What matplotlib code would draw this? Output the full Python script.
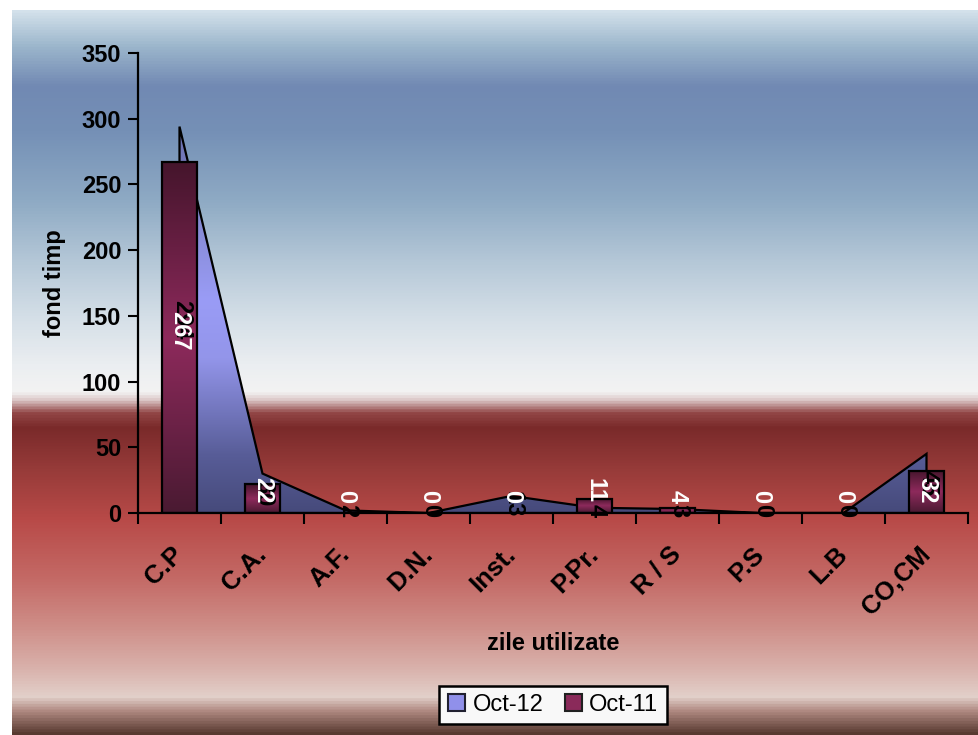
import numpy as np
import matplotlib
matplotlib.use("Agg")
import matplotlib.pyplot as plt
from matplotlib.colors import LinearSegmentedColormap
from matplotlib.patches import Patch, Polygon, Rectangle

plt.rcParams['font.family'] = ['Liberation Sans', 'DejaVu Sans']

# Data
categories = ['C.P', 'C.A.', 'A.F.', 'D.N.', 'Inst.', 'P.Pr.', 'R / S', 'P.S', 'L.B', 'CO,CM']
oct12 = [294, 30, 2, 0, 13, 4, 3, 0, 0, 45]     # area series
oct11 = [267, 22, 0, 0, 0, 11, 4, 0, 0, 32]     # bar series
yticks = [0, 50, 100, 150, 200, 250, 300, 350]

W, H = 979, 735
fig = plt.figure(figsize=(W / 100, H / 100), dpi=100)
fig.patch.set_facecolor('white')

# background gradient of the chart area (pixel row, colour)
bg_stops = [(10, '#d3e1eb'), (45, '#9cb6cc'), (85, '#7189b3'), (130, '#7590b6'),
            (200, '#8eaac4'), (260, '#b4c7d7'), (320, '#d6e0e8'), (365, '#ebeef1'),
            (392, '#f3f3f3'), (400, '#dcc8c8'), (413, '#924646'), (428, '#7a2a2a'),
            (470, '#973b39'), (520, '#b84a48'), (580, '#c46a66'), (630, '#cf908a'),
            (670, '#d9b2ac'), (698, '#e2d0ca'), (712, '#b08a82'), (735, '#583a30')]
top, bot = 10, 735
pos = [(p - top) / (bot - top) for p, _ in bg_stops]
bg_cmap = LinearSegmentedColormap.from_list('bg', list(zip(pos, [c for _, c in bg_stops])))
ax_bg = fig.add_axes([12 / W, 0, 1 - 12 / W, 1 - top / H])
ax_bg.imshow(np.linspace(0, 1, 512).reshape(-1, 1), aspect='auto', cmap=bg_cmap,
             extent=[0, 1, 1, 0])
ax_bg.set_xlim(0, 1)
ax_bg.set_ylim(1, 0)
ax_bg.axis('off')

# main axes
x0, x1, y0, y1 = 138, 968, 53, 513
ax = fig.add_axes([x0 / W, 1 - y1 / H, (x1 - x0) / W, (y1 - y0) / H])
ax.patch.set_alpha(0)
ax.set_xlim(0, len(categories))
ax.set_ylim(0, 350)

xs = np.arange(len(categories)) + 0.5

# area series with vertical gradient
area_cmap = LinearSegmentedColormap.from_list(
    'area', [(0, '#464a7b'), (0.15, '#585d98'), (0.4, '#9395ea'), (0.55, '#9a9cf6'),
             (0.8, '#8186cc'), (1.0, '#6a6fae')])
poly_pts = [(xs[0], 0)] + list(zip(xs, oct12)) + [(xs[-1], 0)]
poly = Polygon(poly_pts, closed=True, facecolor='none', edgecolor='black', lw=1.6, zorder=3)
im = ax.imshow(np.linspace(0, 1, 256).reshape(-1, 1), aspect='auto', cmap=area_cmap,
               origin='lower', extent=[xs[0], xs[-1], 0, max(oct12)], zorder=2)
clip = Polygon(poly_pts, closed=True, transform=ax.transData)
im.set_clip_path(clip)
ax.add_patch(poly)

# bar series with gradient
bar_cmap = LinearSegmentedColormap.from_list(
    'bar', [(0, '#4a1a32'), (0.5, '#8e2a5c'), (1.0, '#45152c')])
bw = 0.42
for x, v in zip(xs, oct11):
    if v <= 0:
        continue
    bim = ax.imshow(np.linspace(0, 1, 128).reshape(-1, 1), aspect='auto', cmap=bar_cmap,
                    origin='lower', extent=[x - bw / 2, x + bw / 2, 0, v], zorder=4)
    ax.add_patch(Rectangle((x - bw / 2, 0), bw, v, facecolor='none',
                           edgecolor='black', lw=1.6, zorder=5))
ax.set_xlim(0, len(categories))
ax.set_ylim(0, 350)

# data labels
for x, v in zip(xs, oct12):
    ax.text(x + 0.02, max(v / 2, 1.8), str(v), rotation=-90, ha='center', va='center',
            color='black', fontsize=17, fontweight='bold', zorder=6)
for x, v in zip(xs, oct11):
    if v < 40:
        ax.text(x, 7.5, str(v), rotation=-90, ha='center', va='bottom',
                color='white', fontsize=17, fontweight='bold', zorder=7)
    else:
        ax.text(x, v / 2 + 5, str(v), rotation=-90, ha='center', va='center',
                color='white', fontsize=17, fontweight='bold', zorder=7)

# axes styling
for s in ['top', 'right']:
    ax.spines[s].set_visible(False)
for s in ['left', 'bottom']:
    ax.spines[s].set_linewidth(1.6)
    ax.spines[s].set_zorder(8)
ax.set_yticks(yticks)
ax.set_yticklabels([str(t) for t in yticks], fontsize=17, fontweight='bold')
ax.tick_params(axis='y', direction='out', length=7, width=1.5, pad=5)
ax.set_xticks(np.arange(len(categories) + 1))
ax.set_xticklabels([])
ax.tick_params(axis='x', which='major', direction='out', length=8, width=1.5)
ax.set_xticks(xs, minor=True)
ax.set_xticklabels(categories, minor=True, rotation=45, ha='right', va='center',
                   rotation_mode='anchor', fontsize=18.5, fontweight='bold')
ax.tick_params(axis='x', which='minor', length=0, pad=27)

fig.text(55 / W, 1 - 283 / H, 'fond timp', rotation=90, ha='center', va='center',
         fontsize=17, fontweight='bold')
fig.text(553 / W, 1 - 643 / H, 'zile utilizate', ha='center', va='center',
         fontsize=17, fontweight='bold')

handles = [Patch(facecolor='#9090ea', edgecolor='#202030', lw=1.5, label='Oct-12'),
           Patch(facecolor='#8a2a5a', edgecolor='#202020', lw=1.5, label='Oct-11')]
leg = fig.legend(handles=handles, loc='center', bbox_to_anchor=(553 / W, 1 - 705 / H),
                 ncol=2, fontsize=17, frameon=True, fancybox=False, edgecolor='black',
                 facecolor='#f8f8f8', framealpha=1, handlelength=0.75, handleheight=0.75,
                 handletextpad=0.3, columnspacing=0.9, borderpad=0.35, borderaxespad=0)
leg.get_frame().set_linewidth(1.8)

fig.savefig('out.png', dpi=100)
